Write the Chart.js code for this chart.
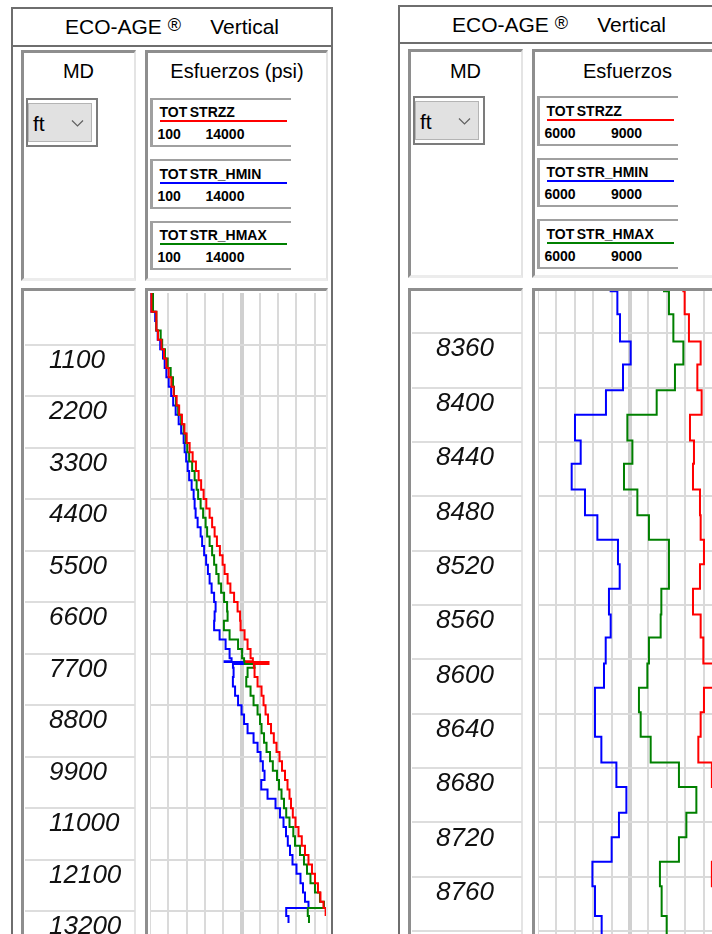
<!DOCTYPE html>
<html>
<head>
<meta charset="utf-8">
<title>ECO-AGE Vertical</title>
<script src="https://cdn.jsdelivr.net/npm/chart.js@4.4.1/dist/chart.umd.min.js"></script>
<style>
	html, body { margin: 0; padding: 0; background: #fff; }
	#page { position: relative; width: 712px; height: 934px; overflow: hidden; font-family: "Liberation Sans", Arial, sans-serif; color: #000; }
	.abs { position: absolute; box-sizing: border-box; }
	.frame { border-left: 2px solid #6e6e6e; border-right: 2px solid #6e6e6e; }
	.title { background: #fff; border: 2px solid #6e6e6e; font-size: 21px; text-align: center; white-space: nowrap; }
	.title .reg { font-size: 18px; position: relative; top: -3px; }
	.box3d { background: #fff; border-top: 3px solid #8e8e8e; border-left: 3px solid #8e8e8e; border-right: 2px solid #e4e4e4; border-bottom: 3px solid #ececec; }
	.head-label { position: absolute; left: 0; right: 0; font-size: 20px; line-height: 24px; text-align: center; white-space: nowrap; }
	.combo { border: 2px solid #7c7c7c; background: #fff; }
	.combo-inner { position: absolute; left: 0; top: 3px; width: 64px; height: 39px; box-sizing: border-box; background: #e1e1e1; border: 1px solid #b4b4b4; }
	.combo-inner .ft { position: absolute; left: 4px; top: 8px; font-size: 21px; line-height: 24px; }
	.combo-inner svg { position: absolute; left: 42px; top: 15px; }
	.legend { background: #fff; border-top: 2px solid #a0a0a0; border-bottom: 2px solid #a0a0a0; border-left: 3px solid #a0a0a0; }
	.legend .name, .legend .lo, .legend .hi { position: absolute; font-size: 14px; font-weight: bold; line-height: 16px; white-space: nowrap; }
	.legend .name { left: 6.5px; top: 4.5px; }
	.legend .tot { margin-right: 2.5px; }
	.legend .bar { position: absolute; left: 7px; top: 20.5px; width: 127px; height: 2px; }
	.legend .lo { left: 4.5px; top: 26.5px; }
	.legend .hi { top: 26.5px; }
	.wrap { overflow: hidden; }
	canvas { display: block; }
</style>
</head>
<body>
<div id="page"></div>
<script>
// ---- left panel: whole well, MD in ft, stresses in psi ----
const left_depth = [0, 200, 400, 600, 800, 1000, 1200, 1400, 1600, 1800, 2000, 2200, 2400, 2600, 2800, 3000, 3200, 3400, 3600, 3800,
	4000, 4200, 4400, 4600, 4800, 5000, 5200, 5400, 5600, 5800, 6000, 6200, 6400, 6600, 6800, 7000, 7200, 7400, 7600, 7800,
	7860, 7880, 7920,
	8000, 8200, 8400, 8600, 8800, 9000, 9200, 9400, 9600, 9800, 10000, 10200, 10400, 10600, 10800, 11000, 11200, 11400, 11600, 11800,
	12000, 12200, 12400, 12600, 12800, 13000,
	13130, 13300, 13450];
const left_zz = [206, 206, 585, 585, 707, 965, 1162, 1344, 1518, 1723, 1898, 2125, 2315, 2527, 2717, 2884, 3111, 3339, 3589, 3794,
	3984, 4173, 4378, 4628, 4818, 5008, 5182, 5410, 5614, 5766, 5994, 6206, 6487, 6752, 6942, 6980, 7283, 7510, 7738, 7913,
	7412, 9103, 7990,
	8041, 8269, 8572, 8724, 8876, 9065, 9293, 9505, 9710, 9938, 10127, 10355, 10545, 10696, 10810, 10947, 11151, 11379, 11629, 11872,
	12137, 12403, 12631, 12858, 13048, 13276,
	13440, 13440, null];
const left_hmin = [206, 206, 494, 570, 684, 874, 1086, 1215, 1344, 1518, 1708, 1860, 2049, 2277, 2466, 2656, 2732, 2846, 2960, 3073,
	3263, 3415, 3490, 3566, 3718, 3946, 4059, 4211, 4363, 4499, 4628, 4780, 4970, 5083, 5008, 4970, 5387, 5842, 6145, 6297,
	5766, 7662, 6400,
	6449, 6396, 6562, 6790, 7056, 7245, 7511, 7966, 8269, 8497, 8671, 8800, 8550, 9028, 9634, 9976, 10241, 10431, 10567, 10734,
	10924, 11227, 11530, 11720, 11872, 12137,
	10446, 10620, 10620];
const left_hmax = [328, 328, 585, 585, 912, 1025, 1238, 1443, 1670, 1845, 1920, 2072, 2239, 2466, 2656, 2808, 2929, 3073, 3301, 3490,
	3642, 3756, 3946, 4135, 4325, 4439, 4628, 4818, 4970, 5136, 5311, 5501, 5728, 5956, 5994, 5713, 6145, 6790, 7093, 7245,
	7300, 7300, 8041,
	7511, 7412, 7738, 7966, 8269, 8459, 8572, 8762, 8952, 9217, 9430, 9748, 9900, 10090, 10279, 10446, 10696, 10985, 11113, 11493,
	11796, 12024, 12289, 12631, 13010, 13313,
	12084, 12175, 12175];
const left_depth_ticks = [1100, 2200, 3300, 4400, 5500, 6600, 7700, 8800, 9900, 11000, 12100, 13200];
const left_stress_ticks = [100, 1490, 2880, 4270, 5660, 7050, 8440, 9830, 11220, 12610, 14000];

// ---- right panel: zoom on 8330-8800 ft ----
const right_depth = [8310, 8329, 8346, 8366, 8383, 8402, 8420, 8439, 8456, 8475, 8494, 8512, 8530, 8548,
	8567, 8584, 8603, 8621, 8639, 8657, 8676, 8694, 8713, 8731, 8749, 8767, 8789, 8810];
const right_zz = [8370, 8391, 8461, 8652, 8598, 8668, 8478, 8543, 8527, 8641, 8652, 8706, 8641, 8527,
	8652, 8696, 8880, 8706, 8652, 8614, 8835, 8900, 8890, 8880, 8835, 8900, 8900, 8900];
const right_hmin = [7185, 7294, 7337, 7511, 7386, 7108, 6603, 6696, 6549, 6766, 6968, 7304, 7332, 7157,
	7185, 7104, 7076, 6929, 6929, 7033, 7278, 7441, 7320, 7201, 6887, 6929, 7038, 7038];
const right_hmax = [8054, 8135, 8207, 8370, 8233, 7935, 7457, 7539, 7402, 7620, 7809, 8135, 8135, 8011,
	8000, 7809, 7783, 7646, 7674, 7837, 8298, 8582, 8419, 8298, 7988, 8016, 8098, 8098];
const right_depth_ticks = [8360, 8400, 8440, 8480, 8520, 8560, 8600, 8640, 8680, 8720, 8760, 8800];
const right_stress_ticks = [6000, 6300, 6600, 6900, 7200, 7500, 7800, 8100, 8400, 8700, 9000];

const curve_names = ['TOTSTRZZ', 'TOTSTR_HMIN', 'TOTSTR_HMAX'];
const curve_colors = ['#ff0000', '#0000ff', '#008000'];

const page = document.getElementById('page');

function place(cls, x, y, w, h, html = '') {
	let div = document.createElement('div');
	div.className = 'abs ' + cls;
	div.style.left = x + 'px';
	div.style.top = y + 'px';
	div.style.width = w + 'px';
	div.style.height = h + 'px';
	div.innerHTML = html;
	page.appendChild(div);
	return div;
}

function add_canvas(x, y, clip_w, w, h) {
	let wrap = place('wrap', x, y, clip_w, h);
	let canvas = document.createElement('canvas');
	canvas.width = w;
	canvas.height = h;
	wrap.appendChild(canvas);
	return canvas;
}

// axis takes no room at all: no width, no label padding
function flat_axis(s) {
	s.width = 0;
	s.paddingTop = 0;
	s.paddingBottom = 0;
	s.paddingLeft = 0;
	s.paddingRight = 0;
}

function depth_chart(canvas, p) {
	new Chart(canvas, {
		type: 'scatter',
		data: { datasets: [] },
		options: {
			responsive: false,
			animation: false,
			layout: { padding: 0 },
			plugins: { legend: { display: false }, tooltip: { enabled: false } },
			scales: {
				x: { display: false, min: 0, max: 1 },
				y: {
					reverse: true,
					min: p.depth_min,
					max: p.depth_max,
					afterBuildTicks: s => { s.ticks = p.depth_ticks.map(v => ({ value: v })); },
					afterFit: flat_axis,
					border: { display: false },
					grid: { drawTicks: false, color: '#dddddd', lineWidth: 2 },
					ticks: {
						mirror: true, padding: 24, labelOffset: 16, autoSkip: false, color: '#111',
						font: { family: 'Liberation Sans', size: 26, style: 'italic' },
						callback: v => String(v)
					}
				}
			}
		}
	});
}

function stress_chart(canvas, p) {
	let series = [
		{ values: p.zz, color: curve_colors[0] },
		{ values: p.hmax, color: curve_colors[2] },
		{ values: p.hmin, color: curve_colors[1] }
	];
	new Chart(canvas, {
		type: 'scatter',
		data: {
			datasets: series.map(s => ({
				data: p.depth.map((d, i) => ({ x: s.values[i], y: d })),
				showLine: true,
				stepped: 'after',
				borderColor: s.color,
				borderWidth: 2,
				pointRadius: 0,
				fill: false
			}))
		},
		options: {
			responsive: false,
			animation: false,
			layout: { padding: 0 },
			plugins: { legend: { display: false }, tooltip: { enabled: false } },
			scales: {
				x: {
					position: 'top',
					min: p.stress_min,
					max: p.stress_max,
					afterBuildTicks: s => { s.ticks = p.stress_ticks.map(v => ({ value: v })); },
					afterFit: s => { s.height = 0; s.paddingLeft = 0; s.paddingRight = 0; },
					border: { display: false },
					ticks: { display: false },
					grid: {
						drawTicks: false,
						color: c => c.index === 5 ? '#d0d0d0' : '#dadada',
						lineWidth: c => c.index === 5 ? 4 : 2
					}
				},
				y: {
					reverse: true,
					min: p.depth_min,
					max: p.depth_max,
					afterBuildTicks: s => { s.ticks = p.depth_ticks.map(v => ({ value: v })); },
					afterFit: flat_axis,
					border: { display: false },
					ticks: { display: false },
					grid: { drawTicks: false, color: '#dadada', lineWidth: 2 }
				}
			}
		}
	});
}

function build_panel(p) {
	place('frame', p.x, p.title_top, 322, 960);
	let title = place('title', p.x, p.title_top, 322, p.title_h,
		`ECO-AGE <span class="reg">®</span>&nbsp;&nbsp;&nbsp;&nbsp; Vertical`);
	title.style.lineHeight = (p.title_h - 4) + 'px';

	let label_top = 58.5 - (p.head_top + 3);
	place('box3d', p.x + 9.5, p.head_top, 115, p.head_h,
		`<div class="head-label" style="top:${label_top}px">MD</div>`);
	place('combo', p.x + 15, p.legend_top, 72, 49, `
		<div class="combo-inner">
			<span class="ft">ft</span>
			<svg width="13" height="9"><polyline points="1,1.5 6.5,7 12,1.5" fill="none" stroke="#606060" stroke-width="1.2"/></svg>
		</div>`);
	place('box3d', p.x + 134, p.head_top, p.esf_w, p.head_h,
		`<div class="head-label" style="top:${label_top}px">${p.esf_title}</div>`);

	curve_names.forEach((name, i) => {
		place('legend', p.x + 139, p.legend_top + i * 61.6, 141, 49.5, `
			<span class="name">${name.replace(/^TOT/, '<span class="tot">TOT</span>')}</span>
			<div class="bar" style="background:${curve_colors[i]}"></div>
			<span class="lo">${p.scale_lo}</span>
			<span class="hi" style="left:${p.hi_x}px">${p.scale_hi}</span>`);
	});

	place('box3d', p.x + 9.5, p.track_top, 115, 960 - p.track_top);
	place('box3d', p.x + 134, p.track_top, p.esf_w, 960 - p.track_top);

	let h = 934 - p.plot_top;
	depth_chart(add_canvas(p.x + 13.5, p.plot_top, 110, 110, h), p);
	stress_chart(add_canvas(p.plot_x, p.plot_top, p.clip_w, p.plot_w, h), p);
}

build_panel({
	x: 11, title_top: 7, title_h: 40, head_top: 50, head_h: 231, legend_top: 97.5,
	track_top: 288, plot_top: 293, plot_x: 150, plot_w: 183, clip_w: 176,
	esf_w: 183, esf_title: 'Esfuerzos (psi)', hi_x: 52.5, scale_lo: '100', scale_hi: '14000',
	depth: left_depth, zz: left_zz, hmin: left_hmin, hmax: left_hmax,
	depth_min: 0, depth_max: 13686, depth_ticks: left_depth_ticks,
	stress_min: 100, stress_max: 14000, stress_ticks: left_stress_ticks
});

build_panel({
	x: 398, title_top: 5, title_h: 39, head_top: 49, head_h: 229, legend_top: 96,
	track_top: 287.5, plot_top: 291, plot_x: 537.5, plot_w: 184, clip_w: 190,
	esf_w: 190, esf_title: 'Esfuerzos', hi_x: 71, scale_lo: '6000', scale_hi: '9000',
	depth: right_depth, zz: right_zz, hmin: right_hmin, hmax: right_hmax,
	depth_min: 8328.9, depth_max: 8802.2, depth_ticks: right_depth_ticks,
	stress_min: 6000, stress_max: 9000, stress_ticks: right_stress_ticks
});
</script>
</body>
</html>
